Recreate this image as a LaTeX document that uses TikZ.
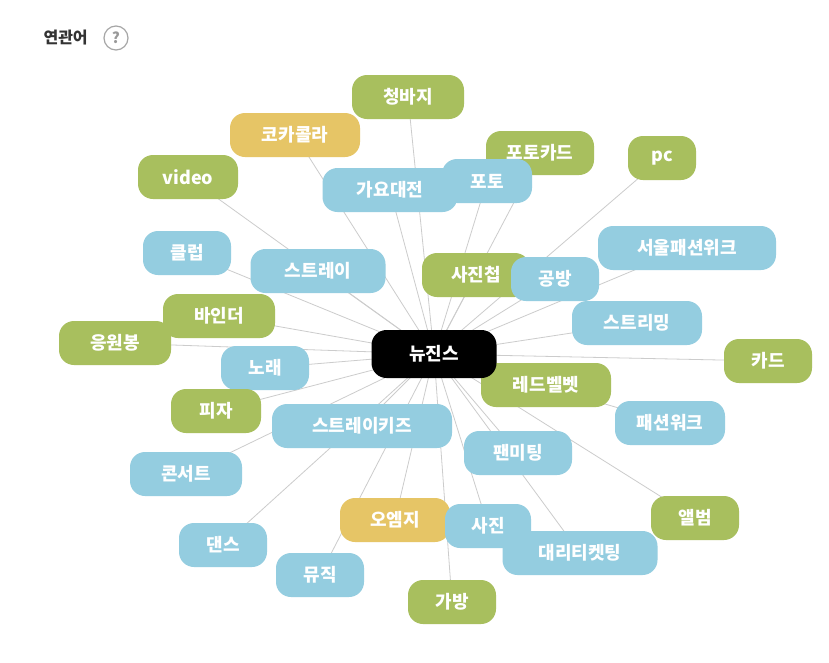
\documentclass[tikz,border=0pt]{standalone}
\usepackage{fontspec}
\setmainfont{Noto Sans CJK KR}
\usetikzlibrary{backgrounds}
\definecolor{gr}{HTML}{A8BF5E}
\definecolor{bl}{HTML}{94CDE0}
\definecolor{ye}{HTML}{E6C566}
\definecolor{ln}{HTML}{CCCCCC}
\tikzset{
 kw/.style={rounded corners=15pt,minimum height=44pt,text=white,font=\fontsize{18}{20}\selectfont\bfseries,inner sep=0pt},
 kg/.style={kw,fill=gr}, kb/.style={kw,fill=bl}, ky/.style={kw,fill=ye},
 edge/.style={draw=ln,line width=0.8pt}
}
\begin{document}
\begin{tikzpicture}[x=1pt,y=-1pt]
\useasboundingbox (0,0) rectangle (829,662);
\node[anchor=west,font=\fontsize{16}{18}\selectfont\bfseries,text=black!80] (title) at (40,38) {연관어};
\node[circle,draw=gray!70,line width=1.2pt,minimum size=24pt,inner sep=0pt,text=gray!80,font=\fontsize{15}{16}\selectfont\bfseries] (help) at (116,38) {?};
\node[kg,minimum width=112pt] (n1) at (408,97) {청바지};
\node[ky,minimum width=130pt] (n2) at (295,135) {코카콜라};
\node[kg,minimum width=108pt] (n3) at (540,153) {포토카드};
\node[kg,minimum width=68pt] (n4) at (662,158) {pc};
\node[kg,minimum width=100pt] (n5) at (188,177) {video};
\node[kb,minimum width=135pt] (n6) at (390,190) {가요대전};
\node[kb,minimum width=90pt] (n7) at (487,181) {포토};
\node[kb,minimum width=88pt] (n8) at (187,253) {클럽};
\node[kb,minimum width=135pt] (n9) at (318,271) {스트레이};
\node[kg,minimum width=108pt] (n10) at (476,275) {사진첩};
\node[kb,minimum width=88pt] (n11) at (555,279) {공방};
\node[kb,minimum width=178pt] (n12) at (687,248) {서울패션위크};
\node[kg,minimum width=112pt] (n13) at (219,316) {바인더};
\node[kb,minimum width=130pt] (n14) at (637,323) {스트리밍};
\node[kg,minimum width=112pt] (n15) at (115,343) {응원봉};
\node[kb,minimum width=88pt] (n16) at (265,368) {노래};
\node[kg,minimum width=88pt] (n17) at (768,361) {카드};
\node[kg,minimum width=130pt] (n18) at (546,385) {레드벨벳};
\node[kg,minimum width=90pt] (n19) at (216,411) {피자};
\node[kb,minimum width=180pt] (n20) at (362,426) {스트레이키즈};
\node[kb,minimum width=110pt] (n21) at (670,423) {패션워크};
\node[kb,minimum width=108pt] (n22) at (518,453) {팬미팅};
\node[kb,minimum width=112pt] (n23) at (186,474) {콘서트};
\node[kg,minimum width=88pt] (n24) at (695,518) {앨범};
\node[ky,minimum width=110pt] (n25) at (395,520) {오엠지};
\node[kb,minimum width=86pt] (n26) at (488,526) {사진};
\node[kb,minimum width=155pt] (n27) at (580,553) {대리티켓팅};
\node[kb,minimum width=88pt] (n28) at (223,545) {댄스};
\node[kb,minimum width=88pt] (n29) at (320,575) {뮤직};
\node[kg,minimum width=88pt] (n30) at (452,602) {가방};
\node[kw,fill=black,minimum width=125pt,minimum height=48pt] (c) at (434,354) {뉴진스};
\begin{scope}[on background layer]
\fill[white] (0,0) rectangle (829,662);
\foreach \i in {1,...,30} \draw[edge] (c.center) -- (n\i.center);
\end{scope}
\end{tikzpicture}
\end{document}
